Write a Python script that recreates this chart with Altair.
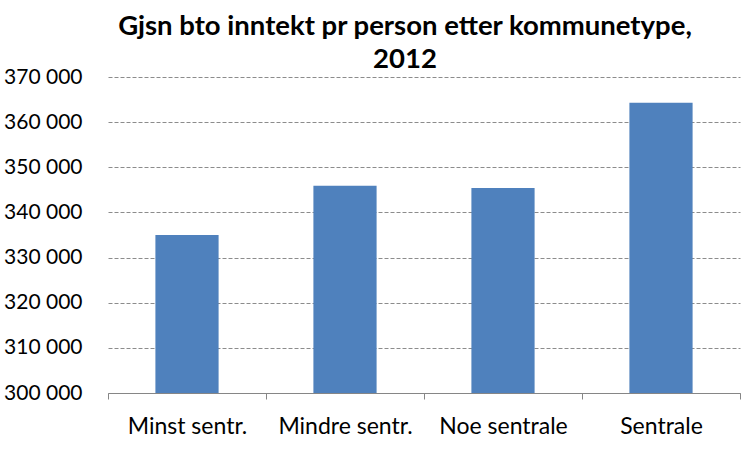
import altair as alt
import pandas as pd

categories = ["Minst sentr.", "Mindre sentr.", "Noe sentrale", "Sentrale"]
values = [335000, 345900, 345400, 364300]
y_ticks = [300000, 310000, 320000, 330000, 340000, 350000, 360000, 370000]

df = pd.DataFrame({"kategori": categories, "inntekt": values})

FONT = "Lato"
W, H = 632, 316

x_enc = alt.X("kategori:N", sort=categories, title=None,
              scale=alt.Scale(paddingInner=0, paddingOuter=0),
              axis=alt.Axis(labelAngle=0, labelFont=FONT, labelFontSize=23,
                            labelColor="#000000", ticks=True, tickSize=6,
                            tickColor="#868686", tickBand="extent",
                            labelPadding=16, domainColor="#868686",
                            domainWidth=1, grid=False))

bars = alt.Chart(df).mark_bar(color="#4F81BD",
                              width=alt.RelativeBandSize(0.4)).encode(
    x=x_enc,
    y=alt.Y("inntekt:Q", title=None,
            scale=alt.Scale(domain=[300000, 370000], nice=False, zero=False),
            axis=alt.Axis(values=y_ticks, format=",d", labelFont=FONT,
                          labelFontSize=21, labelColor="#000000",
                          ticks=False, tickSize=0, labelPadding=26,
                          domain=False, grid=True, gridColor="#8c8c8c",
                          gridDash=[4, 2], gridWidth=1)),
    y2=alt.datum(300000),
)

chart = bars.properties(
    width=W, height=H,
    title=alt.TitleParams(
        text=["Gjsn bto inntekt pr person etter kommunetype,", "2012"],
        font=FONT, fontSize=27.5, fontWeight="bold", color="#000000",
        anchor="middle", dx=-19, offset=-7, lineHeight=33,
    ),
    autosize=alt.AutoSizeParams(type="none"),
    padding={"left": 108, "top": 77, "right": 10, "bottom": 57},
).configure(
    locale={"number": {"decimal": ",", "thousands": "\u00a0", "grouping": [3],
                       "currency": ["", " kr"]}}
).configure_view(stroke=None)

chart.save("out.html", embed_options={"renderer": "svg", "actions": False})
